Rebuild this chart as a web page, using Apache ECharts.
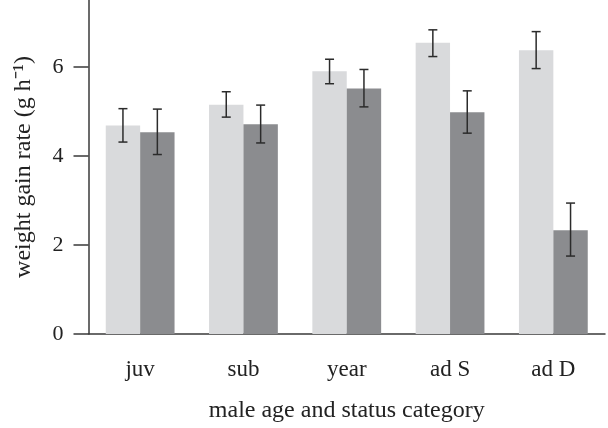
<!DOCTYPE html>
<html>
<head>
<meta charset="utf-8">
<script src="https://cdn.jsdelivr.net/npm/echarts@6/dist/echarts.min.js"></script>
<style>html,body{margin:0;padding:0;background:#fff;}#c{width:608px;height:428px;}</style>
</head>
<body>
<div id="c"></div>
<script>
var categories = ['juv', 'sub', 'year', 'ad S', 'ad D'];
var lightValues = [4.68, 5.15, 5.90, 6.54, 6.37];
var lightLow = [4.31, 4.87, 5.62, 6.23, 5.96];
var lightHigh = [5.06, 5.44, 6.17, 6.83, 6.79];
var darkValues = [4.53, 4.71, 5.51, 4.98, 2.33];
var darkLow = [4.03, 4.29, 5.10, 4.51, 1.75];
var darkHigh = [5.05, 5.14, 5.94, 5.46, 2.94];
var yTicks = [0, 2, 4, 6];

var BAR_FRAC = 0.333;
var font = '"Liberation Serif", "Times New Roman", serif';

function errData(low, high) {
  return categories.map(function (c, i) { return [i, low[i], high[i]]; });
}
function errSeries(low, high, side) {
  return {
    type: 'custom',
    z: 5,
    data: errData(low, high),
    renderItem: function (params, api) {
      var i = api.value(0);
      var band = api.size([1, 0])[0];
      var off = side * band * BAR_FRAC / 2;
      var pLo = api.coord([i, api.value(1)]);
      var pHi = api.coord([i, api.value(2)]);
      var x = pLo[0] + off;
      var cap = 4.5;
      var st = { stroke: '#2b2b2b', lineWidth: 1.5 };
      return {
        type: 'group',
        children: [
          { type: 'line', shape: { x1: x, y1: pLo[1], x2: x, y2: pHi[1] }, style: st },
          { type: 'line', shape: { x1: x - cap, y1: pLo[1], x2: x + cap, y2: pLo[1] }, style: st },
          { type: 'line', shape: { x1: x - cap, y1: pHi[1], x2: x + cap, y2: pHi[1] }, style: st }
        ]
      };
    }
  };
}

var chart = echarts.init(document.getElementById('c'), null, { renderer: 'canvas' });
chart.setOption({
  animation: false,
  backgroundColor: '#fff',
  grid: { left: 88.5, right: 3, top: 0, bottom: 88 },
  xAxis: {
    type: 'category',
    data: categories,
    name: 'male age and status category',
    nameLocation: 'middle',
    nameGap: 65,
    nameTextStyle: { fontFamily: font, fontSize: 24, color: '#222' },
    axisLine: { lineStyle: { color: '#3a3a3a', width: 1.5 } },
    axisTick: { alignWithLabel: true, length: 15, lineStyle: { color: '#3a3a3a', width: 1.5 } },
    axisLabel: { fontFamily: font, fontSize: 23, color: '#222', margin: 24 }
  },
  yAxis: {
    type: 'value',
    min: 0,
    max: 7.5,
    interval: 2,
    name: 'weight gain rate (g h\u207B\u00B9)',
    nameLocation: 'middle',
    nameGap: 53,
    nameTextStyle: { fontFamily: font, fontSize: 24, color: '#222' },
    axisLine: { show: true, lineStyle: { color: '#3a3a3a', width: 1.5 } },
    axisTick: { show: true, length: 15, customValues: yTicks, lineStyle: { color: '#3a3a3a', width: 1.5 } },
    axisLabel: { fontFamily: font, fontSize: 22, color: '#222', margin: 25, customValues: yTicks },
    splitLine: { show: false }
  },
  series: [
    { type: 'bar', data: lightValues, barWidth: '33.3%', barGap: '0%', itemStyle: { color: '#d9dadc' } },
    { type: 'bar', data: darkValues, barWidth: '33.3%', barGap: '0%', itemStyle: { color: '#8b8c8f' } },
    errSeries(lightLow, lightHigh, -1),
    errSeries(darkLow, darkHigh, 1)
  ]
});
</script>
</body>
</html>
